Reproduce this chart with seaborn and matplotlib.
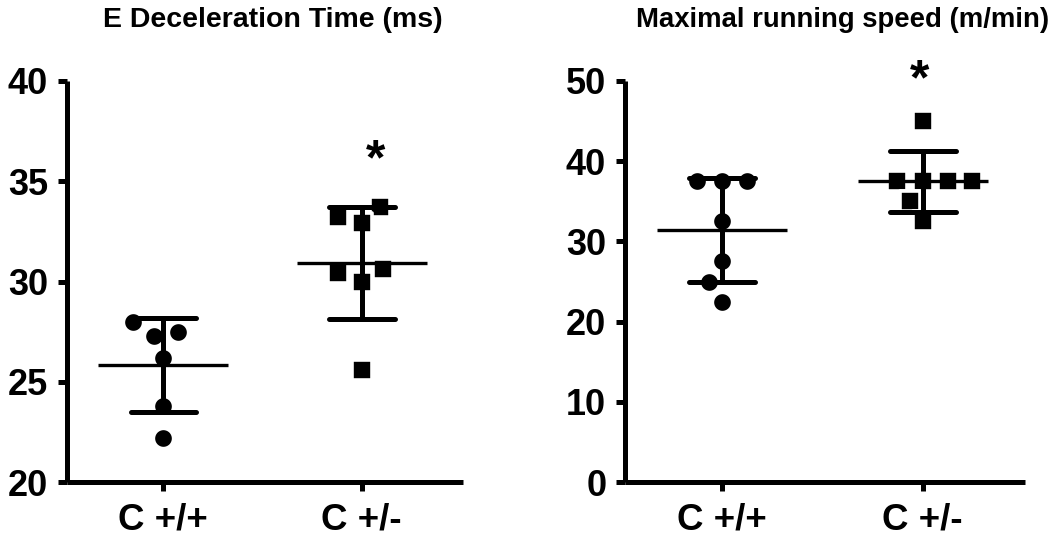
import numpy as np
import pandas as pd
import matplotlib
matplotlib.use("Agg")
import matplotlib.pyplot as plt
import seaborn as sns

# ---- data ----
categories = ["C +/+", "C +/-"]
edt_wt = [28.0, 27.3, 27.5, 26.2, 23.8, 22.2]
edt_het = [33.7, 32.9, 33.2, 30.4, 30.0, 30.6, 25.6]
speed_wt = [37.5, 37.5, 37.5, 32.5, 27.5, 25.0, 22.5]
speed_het = [45.0, 37.5, 37.5, 37.5, 37.5, 35.0, 32.5]
titles = ["E Deceleration Time (ms)", "Maximal running speed (m/min)"]
yticks_edt = [20, 25, 30, 35, 40]
yticks_speed = [0, 10, 20, 30, 40, 50]

sns.set_theme(style="ticks")
plt.rcParams["font.family"] = ["Liberation Sans", "DejaVu Sans"]

fig = plt.figure(figsize=(10.55, 5.38), dpi=100)
ax1 = fig.add_axes([67 / 1055, 1 - 482 / 538, 396 / 1055, 401 / 538])
ax2 = fig.add_axes([625 / 1055, 1 - 482 / 538, 400 / 1055, 401 / 538])


def panel(ax, wt, het, yticks, title, title_x, title_size, star_xy):
    df = pd.DataFrame({
        "group": [categories[0]] * len(wt) + [categories[1]] * len(het),
        "value": list(wt) + list(het),
    })
    # white edge widens the swarm spacing while keeping the black marker size
    sns.swarmplot(data=df[df.group == categories[0]], x="group", y="value",
                  order=categories, marker="o", size=14.6, color="black",
                  edgecolor="white", linewidth=2.6, ax=ax, zorder=3)
    sns.swarmplot(data=df[df.group == categories[1]], x="group", y="value",
                  order=categories, marker="s", size=14.4, color="black",
                  edgecolor="white", linewidth=2.6, ax=ax, zorder=3)
    # mean line
    sns.pointplot(data=df, x="group", y="value", order=categories,
                  errorbar=None, color="black", linestyle="none",
                  marker="_", markersize=94, markeredgewidth=2.4, ax=ax,
                  zorder=4)
    # SD error bars
    sns.pointplot(data=df, x="group", y="value", order=categories,
                  errorbar="sd", capsize=0.33, color="black",
                  linestyle="none", marker="", err_kws={"linewidth": 3.6},
                  ax=ax, zorder=4)
    ax.set_xlim(-0.485, 1.51)
    ax.set_ylim(yticks[0], yticks[-1])
    ax.set_yticks(yticks)
    ax.set_xlabel("")
    ax.set_ylabel("")
    for s in ["top", "right"]:
        ax.spines[s].set_visible(False)
    for s in ["left", "bottom"]:
        ax.spines[s].set_linewidth(3.6)
        ax.spines[s].set_color("black")
        ax.spines[s].set_capstyle("butt")
    ax.tick_params(axis="both", width=3.6, length=6.5, color="black",
                   labelcolor="black")
    ax.tick_params(axis="y", pad=7, labelsize=26)
    ax.tick_params(axis="x", pad=8, labelsize=26.5)
    for lab in ax.get_xticklabels() + ax.get_yticklabels():
        lab.set_fontweight("bold")
    ax.set_title(title, fontsize=title_size, fontweight="bold", pad=39,
                 x=title_x, color="black")
    ax.text(star_xy[0], star_xy[1], "*", fontsize=36, fontweight="bold",
            ha="center", va="baseline", color="black", clip_on=False)
    ax.set_facecolor("white")


panel(ax1, edt_wt, edt_het, yticks_edt, titles[0], 0.52, 20.5, (1.07, 35.35))
panel(ax2, speed_wt, speed_het, yticks_speed, titles[1], 0.545, 19.8,
      (0.985, 48.3))

fig.savefig("out.png", dpi=100, facecolor="white")
